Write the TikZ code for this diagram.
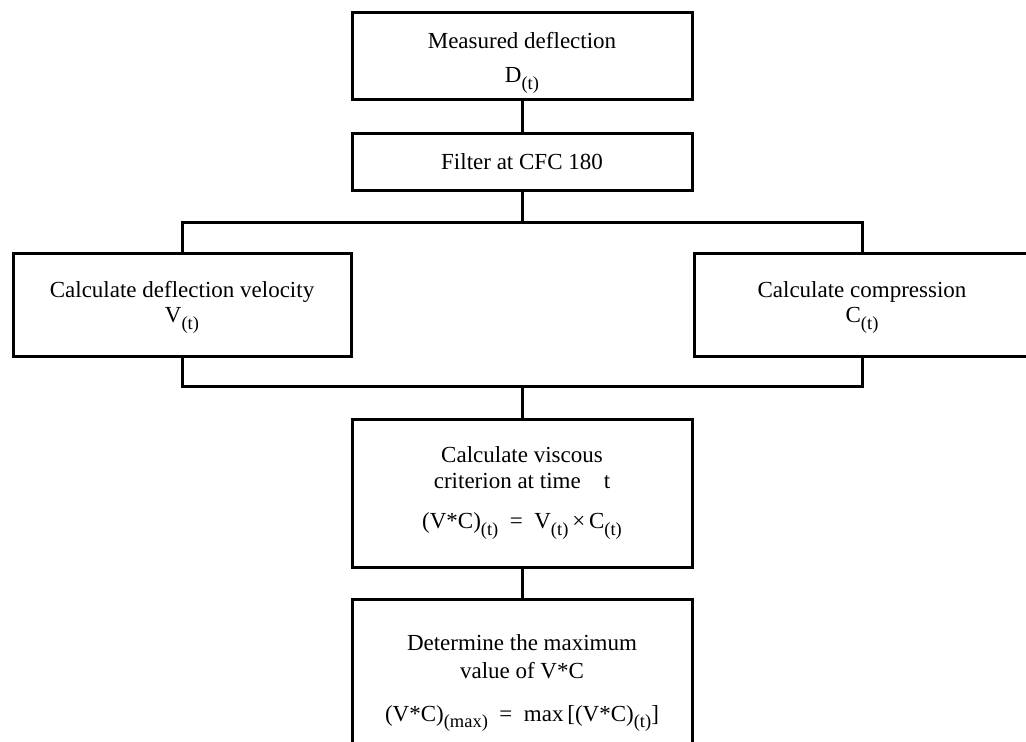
\documentclass[tikz,border=0pt]{standalone}
\usepackage{fontspec}
\setmainfont{Liberation Serif}
\newcommand\subt[1]{\raisebox{-0.3em}{\fontsize{18.5}{18.5}\selectfont(#1)}}
\tikzset{
  box/.style={draw, line width=3pt, align=center, inner sep=0pt,
    font=\fontsize{23}{25.5}\selectfont},
  conn/.style={line width=3pt}
}
\begin{document}
\begin{tikzpicture}[x=1pt,y=-1pt]
\useasboundingbox (0,0) rectangle (1026,742);
\node[box, minimum width=340pt, minimum height=87pt] (n1) at (522,55.5)
  {\rule{0pt}{31pt}Measured deflection\\[8pt]D\subt{t}};
\node[box, minimum width=340pt, minimum height=57pt] (n2) at (522,161.5)
  {Filter at CFC 180};
\node[box, minimum width=338pt, minimum height=103pt] (n3) at (182,304.5)
  {\rule{0pt}{22pt}Calculate deflection velocity\\V\subt{t}};
\node[box, minimum width=336pt, minimum height=103pt] (n4) at (862,304.5)
  {\rule{0pt}{22pt}Calculate compression\\C\subt{t}};
\node[box, minimum width=340pt, minimum height=148pt] (n5) at (522,493)
  {Calculate viscous\\criterion at time\quad t\\[15pt]
   (V*C)\subt{t}\ \ =\ \ V\subt{t}\,×\,C\subt{t}};
\node[box, minimum width=340pt, minimum height=156pt] (n6) at (522,677)
  {\rule{0pt}{28pt}Determine the maximum\\[3pt]value of V*C\\[17pt]
   (V*C)\subt{max}\ \ =\ \ max\,[(V*C)\subt{t}]};
\coordinate (s) at (522,222);
\coordinate (j) at (522,386);
\draw[conn] (n1.south) -- (n2.north);
\draw[conn] (n2.south) -- (s);
\draw[conn] (n3.north) |- (s) -| (n4.north);
\draw[conn] (n3.south) |- (j) -| (n4.south);
\draw[conn] (j) -- (n5.north);
\draw[conn] (n5.south) -- (n6.north);
\end{tikzpicture}
\end{document}
